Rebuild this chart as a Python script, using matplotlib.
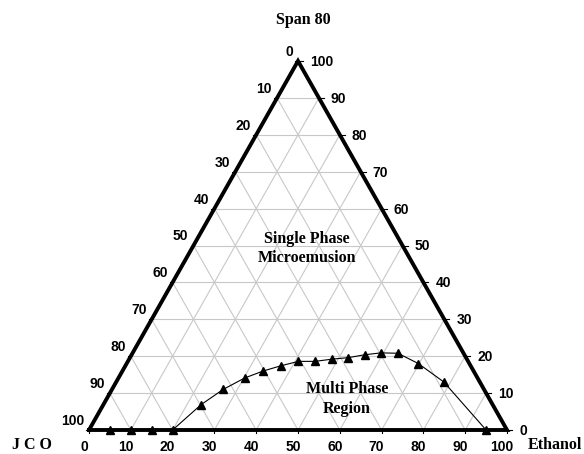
import matplotlib
matplotlib.use("Agg")
import matplotlib.pyplot as plt

# Phase boundary composition (% Ethanol, % Span 80; JCO is the remainder)
ethanol = [5, 10, 15, 20, 23.4, 26.6, 30.2, 33.7, 37.2, 40.8, 44.8, 48.5,
           52.2, 55.8, 59.4, 63.5, 69.8, 78.4, 95.0]
span80 = [0, 0, 0, 0, 6.9, 11.0, 14.1, 16.0, 17.4, 18.6, 18.6, 19.2,
          19.6, 20.4, 20.9, 20.8, 18.0, 13.0, 0]

ticks = list(range(0, 101, 10))
tick_labels = [str(t) for t in ticks]
corner_names = ["Span 80", "J C O", "Ethanol"]
region_names = ["Single Phase\nMicroemusion", "Multi Phase\nRegion"]

W, H = 584, 454
fig = plt.figure(figsize=(W / 100, H / 100), dpi=100)
ax = fig.add_axes([89 / W, 24 / H, 418 / W, 369 / H])
ax.set_xlim(0, 100)
ax.set_ylim(0, 100)
ax.axis("off")

SANS = ["Liberation Sans", "DejaVu Sans"]
SERIF = ["Liberation Serif", "DejaVu Serif"]


def to_xy(e, s):
    """Ternary (ethanol, span) -> plane coordinates."""
    return e + s / 2.0, s


# grid
grid_kw = dict(color="#c8c8c8", lw=0.8, zorder=1, solid_capstyle="butt")
for k in ticks[1:-1]:
    # constant Span 80
    x0, y0 = to_xy(0, k)
    x1, y1 = to_xy(100 - k, k)
    ax.plot([x0, x1], [y0, y1], **grid_kw)
    # constant Ethanol
    x0, y0 = to_xy(k, 0)
    x1, y1 = to_xy(k, 100 - k)
    ax.plot([x0, x1], [y0, y1], **grid_kw)
    # constant JCO
    x0, y0 = to_xy(100 - k, 0)
    x1, y1 = to_xy(0, 100 - k)
    ax.plot([x0, x1], [y0, y1], **grid_kw)

# triangle frame
corners = [to_xy(0, 0), to_xy(100, 0), to_xy(0, 100), to_xy(0, 0)]
ax.plot([c[0] for c in corners], [c[1] for c in corners], color="black",
        lw=2.8, zorder=3, solid_joinstyle="miter", clip_on=False)

# data
pts = [to_xy(e, s) for e, s in zip(ethanol, span80)]
ax.plot([p[0] for p in pts], [p[1] for p in pts], color="black", lw=0.8,
        marker="^", markersize=6.3, zorder=4, clip_on=False)

# ticks and tick labels
ux = 100 / 418.0
uy = 100 / 369.0
lab_kw = dict(fontsize=10, fontweight="bold", family=SANS,
              textcoords="offset pixels", annotation_clip=False)
for t, lab in zip(ticks, tick_labels):
    # bottom axis: Ethanol
    x, y = to_xy(t, 0)
    ax.plot([x, x], [y, y - 3 * uy], color="black", lw=0.8, clip_on=False)
    ax.annotate(lab, (x, y), xytext=(-5, -17), ha="center", va="center", **lab_kw)
    # left axis: JCO (0 at apex, 100 at bottom left)
    x, y = to_xy(0, 100 - t)
    ax.plot([x, x - 3 * ux], [y, y], color="black", lw=0.8, clip_on=False)
    ax.annotate(lab, (x, y), xytext=(-5, 9), ha="right", va="center", **lab_kw)
    # right axis: Span 80
    x, y = to_xy(100 - t, t)
    ax.plot([x, x + 5 * ux], [y, y], color="black", lw=0.8, clip_on=False)
    ax.annotate(lab, (x, y), xytext=(12, -1), ha="left", va="center", **lab_kw)

name_kw = dict(fontsize=11.5, fontweight="bold", family=SERIF,
               ha="center", va="center", clip_on=False)
ax.text(51.2, 111.1, corner_names[0], **name_kw)
ax.text(-13.6, -4.0, corner_names[1], **name_kw)
ax.text(111.4, -4.2, corner_names[2], **name_kw)

ax.text(*to_xy(27.6, 49.2), region_names[0], linespacing=1.3, **name_kw)
ax.text(*to_xy(57.5, 8.4), region_names[1], linespacing=1.3, **name_kw)

fig.savefig("out.png", dpi=100)
